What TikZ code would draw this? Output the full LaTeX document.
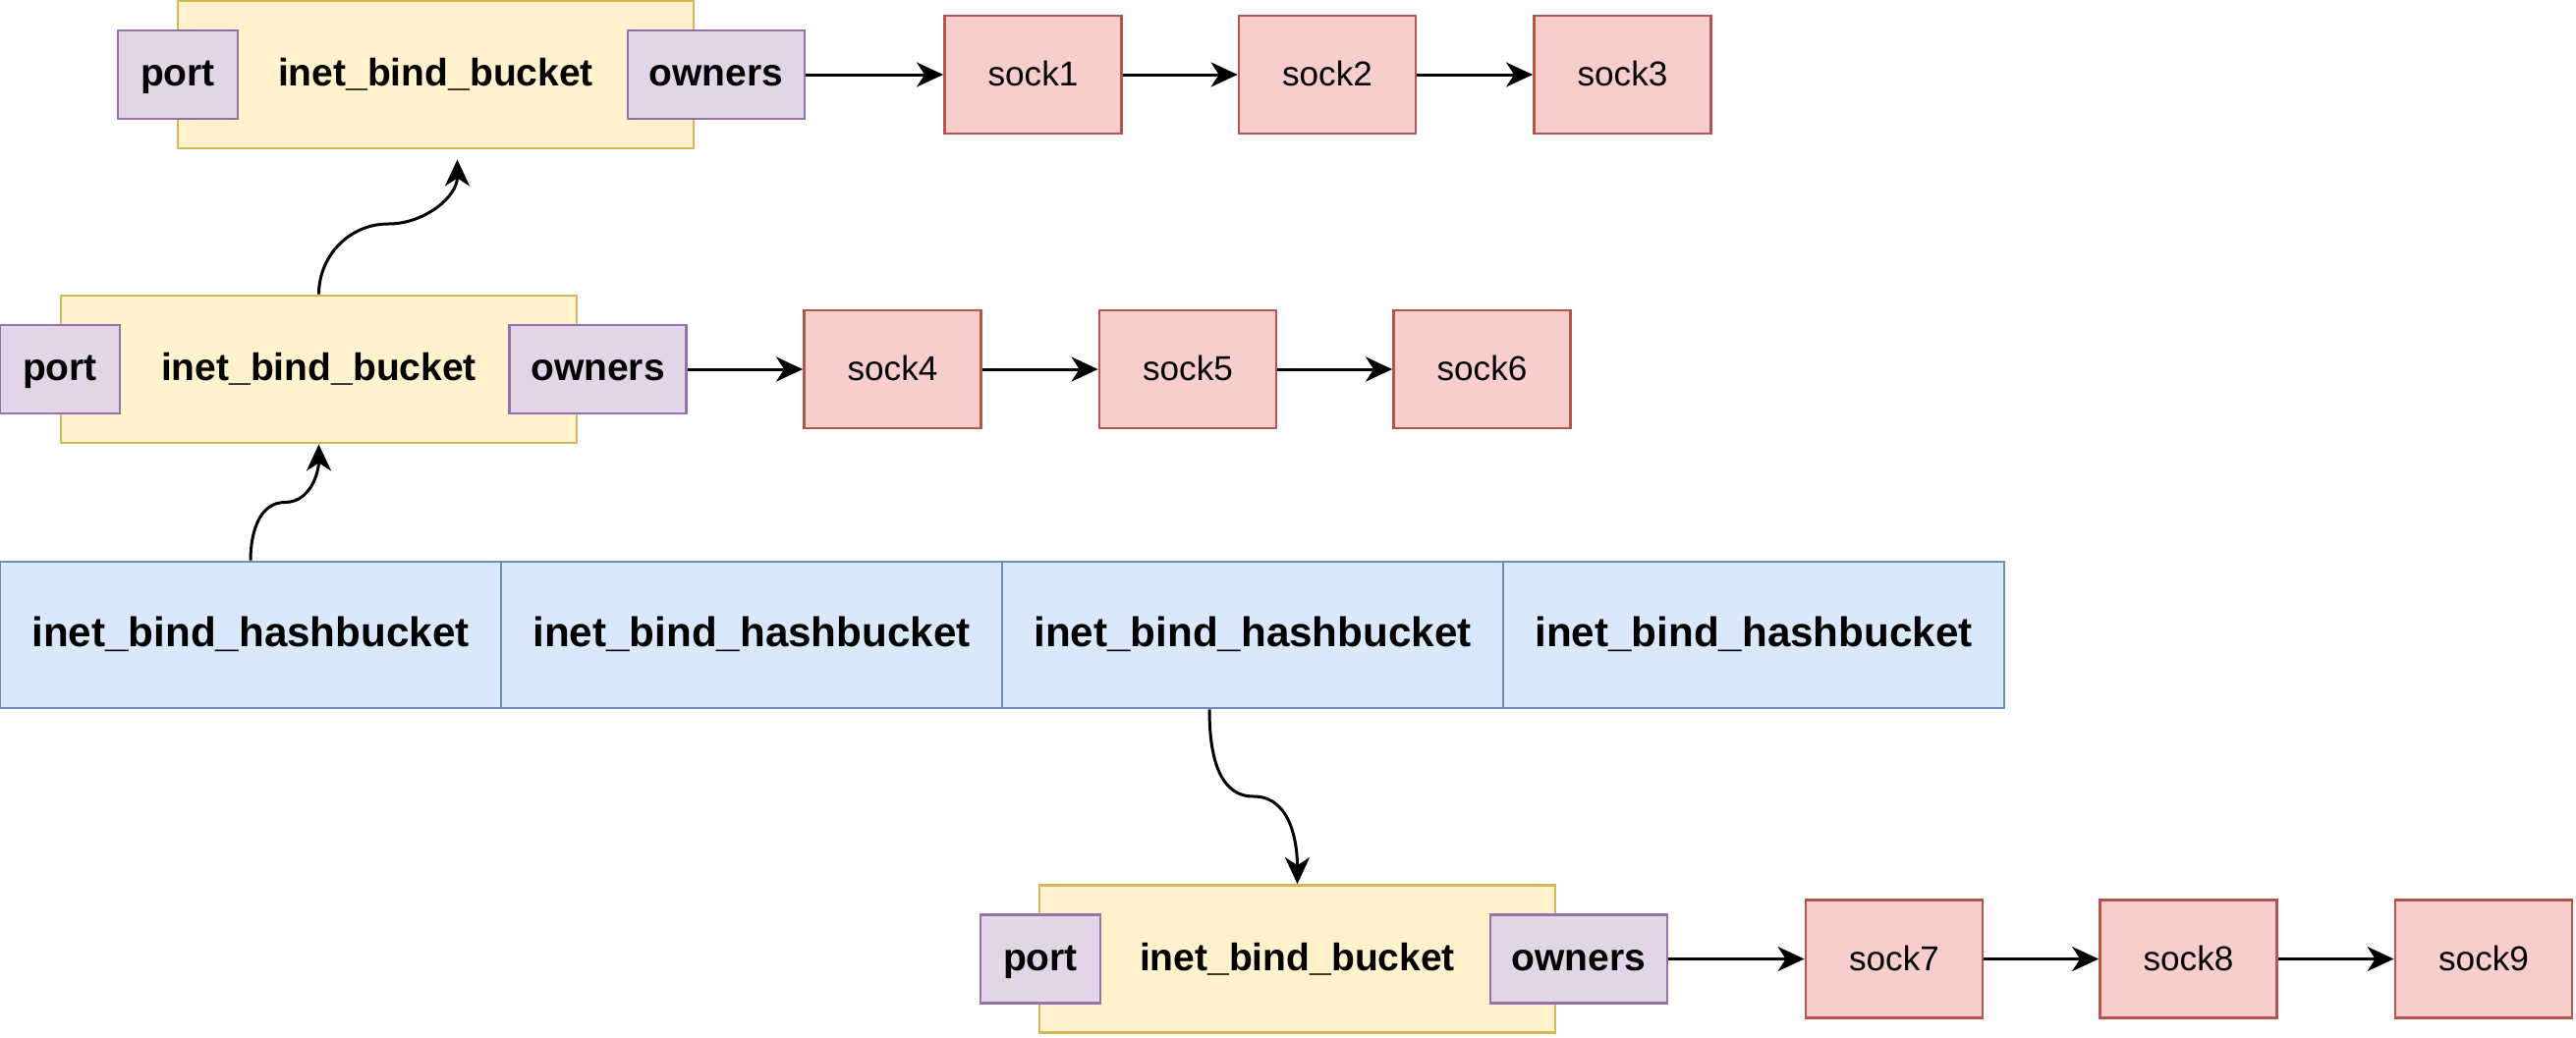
\documentclass[tikz,border=0pt]{standalone}
\usepackage{fontspec}
\setmainfont{Liberation Sans}
\usepackage{xcolor}
\usetikzlibrary{arrows.meta}
\definecolor{bucketfill}{HTML}{FFF2CC}
\definecolor{bucketline}{HTML}{D6B656}
\definecolor{fieldfill}{HTML}{E1D5E7}
\definecolor{fieldline}{HTML}{9673A6}
\definecolor{sockfill}{HTML}{F8CECC}
\definecolor{sockline}{HTML}{B85450}
\definecolor{hashfill}{HTML}{DAE8FC}
\definecolor{hashline}{HTML}{6C8EBF}
\tikzset{
	bucket/.style={draw=bucketline, fill=bucketfill, line width=0.8pt, minimum width=5.25cm, minimum height=1.5cm, text height=0.8em, text depth=0.12em, font=\fontsize{11.1}{13}\selectfont\bfseries},
	field/.style={draw=fieldline, fill=fieldfill, line width=0.8pt, minimum height=0.9cm, text height=0.8em, text depth=0.12em, font=\fontsize{11.1}{13}\selectfont\bfseries},
	sock/.style={draw=sockline, fill=sockfill, line width=0.8pt, minimum width=1.8cm, minimum height=1.2cm, text height=0.8em, text depth=0.12em, font=\fontsize{10}{12}\selectfont},
	hashcell/.style={draw=hashline, fill=hashfill, line width=0.8pt, minimum width=5.1cm, minimum height=1.49cm, text height=0.8em, text depth=0.12em, font=\fontsize{12}{14}\selectfont\bfseries},
	link/.style={-{Stealth[length=2.7mm, width=2.5mm, inset=0.8mm]}, line width=0.85pt}
}

\begin{document}
\begin{tikzpicture}
		\useasboundingbox (0,0) rectangle (26.22,-10.56);
		
		% Hash table
		\node[hashcell] (hash1) at (2.55,-6.465) {inet\_bind\_hashbucket};
		\node[hashcell] (hash2) at (7.65,-6.465) {inet\_bind\_hashbucket};
		\node[hashcell] (hash3) at (12.75,-6.465) {inet\_bind\_hashbucket};
		\node[hashcell] (hash4) at (17.85,-6.465) {inet\_bind\_hashbucket};
		
		% Top bucket
		\node[bucket] (bucketA) at (4.435,-0.76) {inet\_bind\_bucket};
		\node[field, minimum width=1.22cm] (portA) at (1.81,-0.76) {port};
		\node[field, minimum width=1.8cm] (ownersA) at (7.29,-0.76) {owners};
		\node[sock] (sock1) at (10.515,-0.76) {sock1};
		\node[sock] (sock2) at (13.51,-0.76) {sock2};
		\node[sock] (sock3) at (16.515,-0.76) {sock3};
		
		% Middle bucket
		\node[bucket] (bucketB) at (3.245,-3.76) {inet\_bind\_bucket};
		\node[field, minimum width=1.22cm] (portB) at (0.61,-3.76) {port};
		\node[field, minimum width=1.8cm] (ownersB) at (6.085,-3.76) {owners};
		\node[sock] (sock4) at (9.085,-3.76) {sock4};
		\node[sock] (sock5) at (12.09,-3.76) {sock5};
		\node[sock] (sock6) at (15.085,-3.76) {sock6};
		
		% Bottom bucket
		\node[bucket] (bucketC) at (13.205,-9.765) {inet\_bind\_bucket};
		\node[field, minimum width=1.22cm] (portC) at (10.59,-9.765) {port};
		\node[field, minimum width=1.8cm] (ownersC) at (16.07,-9.765) {owners};
		\node[sock] (sock7) at (19.28,-9.765) {sock7};
		\node[sock] (sock8) at (22.275,-9.765) {sock8};
		\node[sock] (sock9) at (25.28,-9.765) {sock9};
		
		% Chains
		\draw[link] (ownersA) -- (sock1);
		\draw[link] (sock1) -- (sock2);
		\draw[link] (sock2) -- (sock3);
		\draw[link] (ownersB) -- (sock4);
		\draw[link] (sock4) -- (sock5);
		\draw[link] (sock5) -- (sock6);
		\draw[link] (ownersC) -- (sock7);
		\draw[link] (sock7) -- (sock8);
		\draw[link] (sock8) -- (sock9);
		
		% Bucket links
		\coordinate (intoA) at ([xshift=0.22cm, yshift=-0.1cm]bucketA.south);
		\coordinate (outof3) at ([xshift=-0.44cm]hash3.south);
		\coordinate (bendB) at (2.90,-5.115);
		\coordinate (bendA) at (3.95,-2.28);
		\coordinate (bendC) at (12.76,-8.11);
		\draw[link] (hash1.north) to[out=90, in=180] (bendB) to[out=0, in=-90] (bucketB.south);
		\draw[link] (bucketB.north) to[out=90, in=180] (bendA) to[out=0, in=-90] (intoA);
		\draw[link] (outof3) to[out=-90, in=180] (bendC) to[out=0, in=90] (bucketC.north);
	\end{tikzpicture}
\end{document}
